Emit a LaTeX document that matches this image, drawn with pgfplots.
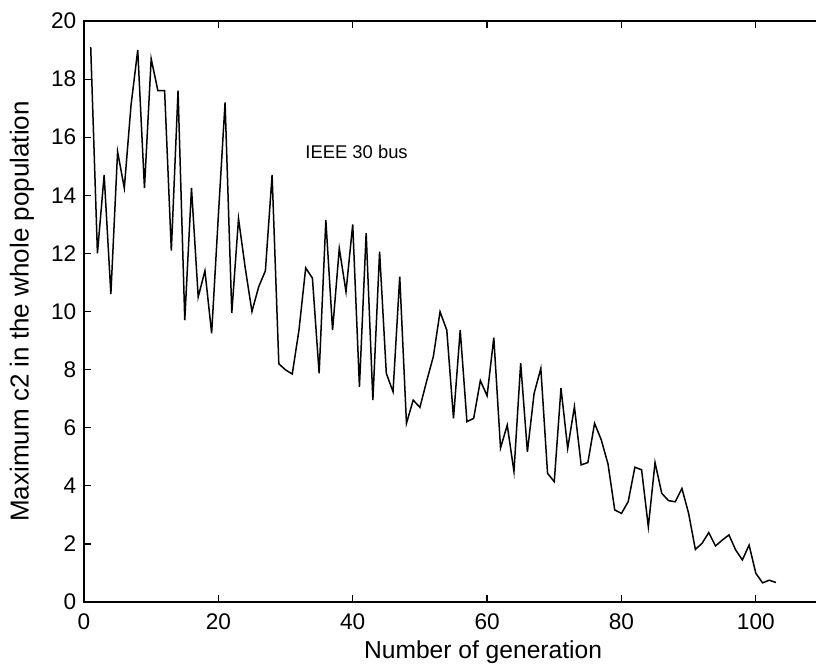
\documentclass[border=0pt]{standalone}
\usepackage{fontspec}
\setmainfont{Liberation Sans}
\usepackage{pgfplots}
\pgfplotsset{compat=1.18}
\begin{document}
\fontsize{11}{13}\selectfont
\begin{tikzpicture}
\begin{axis}[
  scale only axis,
  width=369.5pt, height=290.5pt,
  xmin=0, xmax=110, ymin=0, ymax=20,
  xtick={0,20,...,100}, ytick={0,2,...,20},
  xtick pos=both, ytick pos=both,
  xticklabel pos=lower, yticklabel pos=left,
  tick align=inside, major tick length=3.5pt,
  axis line style={line width=0.7pt},
  every tick/.style={line width=0.6pt, black},
  /pgf/number format/assume math mode=true,
  tick label style={font=\fontsize{11.3}{13}\selectfont},
  xticklabel style={yshift=-2pt},
  xlabel={Number of generation},
  ylabel={Maximum c2 in the whole population},
  xlabel style={font=\fontsize{12.3}{14}\selectfont, at={(axis description cs:0.54,0)}, anchor=center, yshift=-25pt},
  ylabel style={font=\fontsize{13}{15}\selectfont, at={(axis description cs:-0.0839,0.5)}, anchor=center},
]
\addplot[black, line width=0.75pt] coordinates {
(1,19.1) (2,12.0) (3,14.7) (4,10.6) (5,15.5) (6,14.25) (7,17.1) (8,19.0) (9,14.25) (10,18.7)
(11,17.6) (12,17.6) (13,12.1) (14,17.6) (15,9.7) (16,14.25) (17,10.5) (18,11.4) (19,9.25) (20,13.3)
(21,17.2) (22,9.95) (23,13.2) (24,11.5) (25,10.0) (26,10.85) (27,11.4) (28,14.7) (29,8.2) (30,7.99)
(31,7.85) (32,9.36) (33,11.5) (34,11.15) (35,7.87) (36,13.15) (37,9.36) (38,12.17) (39,10.68) (40,13.0)
(41,7.41) (42,12.7) (43,6.95) (44,12.06) (45,7.87) (46,7.24) (47,11.2) (48,6.15) (49,6.95) (50,6.7)
(51,7.6) (52,8.45) (53,9.99) (54,9.36) (55,6.32) (56,9.36) (57,6.21) (58,6.32) (59,7.62) (60,7.1)
(61,9.1) (62,5.3) (63,6.09) (64,4.49) (65,8.22) (66,5.17) (67,7.18) (68,8.04) (69,4.43) (70,4.14)
(71,7.36) (72,5.29) (73,6.72) (74,4.72) (75,4.8) (76,6.15) (77,5.58) (78,4.75) (79,3.17) (80,3.05)
(81,3.45) (82,4.64) (83,4.55) (84,2.59) (85,4.8) (86,3.74) (87,3.49) (88,3.45) (89,3.91) (90,3.05)
(91,1.81) (92,2.02) (93,2.39) (94,1.93) (95,2.13) (96,2.31) (97,1.79) (98,1.45) (99,1.96) (100,0.99)
(101,0.66) (102,0.75) (103,0.67)
};
\node[anchor=west, inner sep=0pt, font=\fontsize{9.2}{11}\selectfont] at (axis cs:32.9,15.5) {IEEE 30 bus};
\end{axis}
\pgfresetboundingbox
\path[use as bounding box] ([shift={(-42pt,-32pt)}]current axis.south west) rectangle ([shift={(366pt,301pt)}]current axis.south west);
\end{tikzpicture}
\end{document}
